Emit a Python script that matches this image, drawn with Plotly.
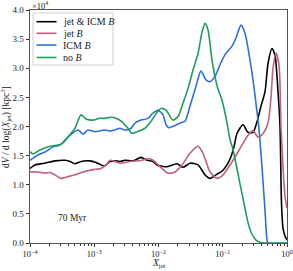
import plotly.graph_objects as go

# log10(X_jet) sample positions and dV/dlog(X_jet) values in units of 1e4 kpc^3
green_lx = [-4.00, -3.953, -3.875, -3.798, -3.689, -3.564, -3.486, -3.409, -3.300, -3.206, -3.128, -3.019,
            -2.926, -2.833, -2.739, -2.661, -2.568, -2.475, -2.412, -2.335, -2.210, -2.101, -2.039, -1.961,
            -1.883, -1.774, -1.696, -1.619, -1.541, -1.463, -1.385, -1.323, -1.276, -1.230, -1.167, -1.089,
            -1.012, -0.949, -0.887, -0.840, -0.732, -0.654, -0.607, -0.545, -0.483, -0.420, -0.342, 0.0]
green_y = [1.57, 1.53, 1.58, 1.62, 1.66, 1.68, 1.72, 1.82, 1.97, 2.20, 2.13, 2.11,
           2.14, 2.14, 2.16, 2.14, 2.08, 1.97, 1.88, 1.91, 1.97, 2.11, 2.22, 2.31,
           2.28, 2.11, 2.17, 2.40, 2.65, 2.97, 3.25, 3.62, 3.77, 3.66, 3.14, 2.70,
           2.45, 2.15, 1.78, 1.60, 1.02, 0.60, 0.35, 0.15, 0.05, 0.01, 0.0, 0.0]

blue_lx = [-4.00, -3.875, -3.751, -3.642, -3.533, -3.409, -3.253, -3.175, -3.097, -2.988, -2.833, -2.755,
           -2.677, -2.599, -2.521, -2.428, -2.366, -2.272, -2.163, -2.086, -2.008, -1.930, -1.883, -1.837,
           -1.759, -1.665, -1.588, -1.510, -1.432, -1.339, -1.261, -1.198, -1.121, -1.027, -0.949, -0.856,
           -0.794, -0.716, -0.654, -0.576, -0.529, -0.483, -0.436, -0.389, -0.342, -0.311, -0.296, 0.0]
blue_y = [1.42, 1.51, 1.57, 1.65, 1.68, 1.82, 1.94, 1.87, 1.94, 1.91, 1.94, 1.92,
          1.94, 1.97, 1.94, 1.97, 2.06, 2.11, 2.14, 2.23, 2.28, 2.20, 2.03, 1.98,
          2.01, 2.06, 2.09, 2.35, 2.63, 2.95, 2.80, 2.77, 2.86, 3.10, 3.26, 3.38,
          3.52, 3.74, 3.60, 3.14, 2.80, 2.40, 1.95, 1.30, 0.55, 0.05, 0.0, 0.0]

black_lx = [-4.00, -3.922, -3.782, -3.689, -3.611, -3.455, -3.377, -3.300, -3.206, -3.066, -2.942, -2.848,
            -2.755, -2.677, -2.599, -2.521, -2.397, -2.272, -2.179, -2.086, -2.023, -1.868, -1.712, -1.619,
            -1.510, -1.385, -1.276, -1.198, -1.105, -0.996, -0.887, -0.825, -0.778, -0.685, -0.607, -0.529,
            -0.467, -0.405, -0.342, -0.296, -0.233, -0.187, -0.140, -0.109, -0.086, -0.062, -0.031, 0.0]
black_y = [1.28, 1.34, 1.37, 1.39, 1.41, 1.42, 1.40, 1.36, 1.40, 1.41, 1.37, 1.32,
           1.40, 1.41, 1.40, 1.42, 1.41, 1.47, 1.42, 1.40, 1.34, 1.31, 1.36, 1.30,
           1.37, 1.34, 1.17, 1.11, 1.17, 1.25, 1.44, 1.65, 1.88, 2.03, 1.90, 1.90,
           2.08, 2.35, 2.60, 3.08, 3.34, 3.22, 2.60, 2.00, 0.70, 0.25, 0.12, 0.05]

red_lx = [-4.00, -3.875, -3.767, -3.689, -3.611, -3.518, -3.409, -3.300, -3.175, -3.019, -2.895, -2.817,
          -2.755, -2.677, -2.599, -2.444, -2.257, -2.163, -2.086, -1.977, -1.852, -1.743, -1.634, -1.510,
          -1.385, -1.307, -1.198, -1.089, -0.996, -0.840, -0.685, -0.607, -0.529, -0.451, -0.374, -0.296,
          -0.249, -0.218, -0.171, -0.124, -0.093, -0.062, -0.031, 0.0]
red_y = [1.22, 1.22, 1.20, 1.21, 1.17, 1.11, 1.14, 1.17, 1.22, 1.26, 1.28, 1.34,
         1.42, 1.40, 1.37, 1.40, 1.42, 1.45, 1.42, 1.31, 1.20, 1.22, 1.34, 1.54,
         1.66, 1.54, 1.22, 1.11, 1.17, 1.42, 1.71, 1.85, 1.93, 1.82, 1.88, 2.06,
         2.50, 3.00, 3.26, 3.05, 2.00, 1.30, 0.80, 0.60]

series_names = ["jet &amp; ICM <i>B</i>", "jet <i>B</i>", "ICM <i>B</i>", "no <i>B</i>"]
series_colors = ["#000000", "#c0627a", "#2f6fdd", "#1f9d5c"]
series_lx = [black_lx, red_lx, blue_lx, green_lx]
series_y = [black_y, red_y, blue_y, green_y]

y_ticks = [0.0, 0.5, 1.0, 1.5, 2.0, 2.5, 3.0, 3.5, 4.0]
x_major = [-4, -3, -2, -1, 0]
x_major_text = ["10<sup>−4</sup>", "10<sup>−3</sup>", "10<sup>−2</sup>", "10<sup>−1</sup>", "10<sup>0</sup>"]

FONT = "Liberation Serif"
W, H = 293, 271
ML, MR, MT, MB = 30, 6, 10, 28
PW, PH = W - ML - MR, H - MT - MB


def px(xp):
    return (xp - ML) / PW


def py(yp):
    return (H - MB - yp) / PH


fig = go.Figure()
for name, col, lx, yv in zip(series_names, series_colors, series_lx, series_y):
    fig.add_trace(go.Scatter(
        x=[10 ** v for v in lx], y=yv, mode="lines", name=name, showlegend=False,
        line=dict(color=col, width=1.6, shape="spline", smoothing=0.7),
    ))

minor_vals = [k * 10 ** e for e in x_major[:-1] for k in range(2, 10)]

fig.update_layout(
    width=W, height=H,
    margin=dict(l=ML, r=MR, t=MT, b=MB),
    paper_bgcolor="white", plot_bgcolor="white",
    font=dict(family=FONT, size=9, color="#222"),
    showlegend=False,
    xaxis=dict(type="log", range=[-4, 0], automargin=False,
               tickmode="array", tickvals=[10 ** v for v in x_major], ticktext=x_major_text,
               ticks="outside", ticklen=3, tickcolor="#333",
               minor=dict(tickmode="array", tickvals=minor_vals, ticks="outside", ticklen=2, tickcolor="#333"),
               showgrid=False, zeroline=False,
               showline=True, linecolor="#555", linewidth=1, mirror=True,
               tickfont=dict(family=FONT, size=8.5)),
    yaxis=dict(range=[0, 4.0], automargin=False, tickmode="array", tickvals=y_ticks,
               ticktext=[f"{v:.1f}" for v in y_ticks],
               ticks="outside", ticklen=3.5, tickcolor="#333",
               showgrid=False, zeroline=False,
               showline=True, linecolor="#555", linewidth=1, mirror=True,
               tickfont=dict(family=FONT, size=9)),
)

# axis titles
fig.add_annotation(text="<i>X</i><sub>jet</sub>", xref="paper", yref="paper", x=0.5, y=0,
                   xanchor="center", yanchor="top", yshift=-13, showarrow=False,
                   font=dict(family=FONT, size=9.5, color="#222"))
fig.add_annotation(text="d<i>V</i> / d log(<i>X</i><sub>jet</sub>) [kpc<sup>3</sup>]",
                   xref="paper", yref="paper", x=px(6), y=py(127), textangle=-90,
                   xanchor="center", yanchor="middle", showarrow=False,
                   font=dict(family=FONT, size=9.5, color="#222"))

fig.add_annotation(text="×10<sup>4</sup>", xref="paper", yref="paper", x=0.0, y=1.0,
                   xanchor="left", yanchor="bottom", showarrow=False,
                   font=dict(family=FONT, size=8.5, color="#222"), yshift=-3)
fig.add_annotation(text="70 Myr", xref="paper", yref="paper", x=px(56), y=py(218),
                   xanchor="left", yanchor="middle", showarrow=False,
                   font=dict(family=FONT, size=9.5, color="#222"))

# legend drawn by hand
fig.add_shape(type="rect", xref="paper", yref="paper", x0=px(33), x1=px(113), y0=py(65), y1=py(13),
              line=dict(color="#d0d0d0", width=1), fillcolor="rgba(255,255,255,0.85)", layer="above")
leg_rows = [21.7, 33.3, 45.0, 57.5]
for name, col, yr in zip(series_names, series_colors, leg_rows):
    fig.add_shape(type="line", xref="paper", yref="paper", x0=px(36.5), x1=px(56.5), y0=py(yr), y1=py(yr),
                  line=dict(color=col, width=1.6), layer="above")
    fig.add_annotation(text=name, xref="paper", yref="paper", x=px(61), y=py(yr),
                       xanchor="left", yanchor="middle", showarrow=False,
                       font=dict(family=FONT, size=10, color="#222"))

fig.write_html("out.html", config={"displayModeBar": False},
               post_script="document.body.style.margin='0';document.body.style.overflow='hidden';")
